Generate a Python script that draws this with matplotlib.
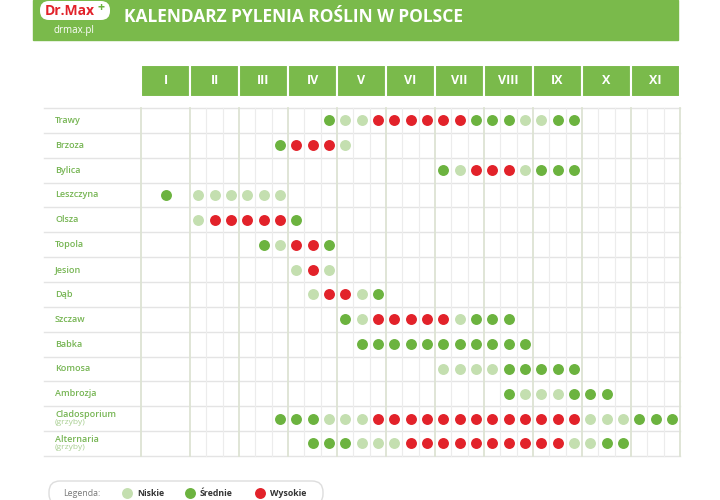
import matplotlib
matplotlib.use("Agg")
import matplotlib.pyplot as plt
from matplotlib.patches import FancyBboxPatch, Rectangle

plt.rcParams['font.family'] = ['Open Sans', 'DejaVu Sans']

months = ["I", "II", "III", "IV", "V", "VI", "VII", "VIII", "IX", "X", "XI"]
plants = ["Trawy", "Brzoza", "Bylica", "Leszczyna", "Olsza", "Topola", "Jesion", "Dąb",
          "Szczaw", "Babka", "Komosa", "Ambrozja", "Cladosporium", "Alternaria"]
subs = {"Cladosporium": "(grzyby)", "Alternaria": "(grzyby)"}
# slot -1 = January (single column); slots 0..29 = thirds of Feb..Nov
# levels: L = niskie, S = srednie, W = wysokie
series = {
    "Trawy":        (8,  "SLLWWWWWWSSSLLSS"),
    "Brzoza":       (5,  "SWWWL"),
    "Bylica":       (15, "SLWWWLSSS"),
    "Leszczyna":    (-1, "SLLLLLL"),
    "Olsza":        (0,  "LWWWWWS"),
    "Topola":       (4,  "SLWWS"),
    "Jesion":       (6,  "LWL"),
    "Dąb":          (7,  "LWWLS"),
    "Szczaw":       (9,  "SLWWWWWLSSS"),
    "Babka":        (10, "SSSSSSSSSSS"),
    "Komosa":       (15, "LLLLSSSSS"),
    "Ambrozja":     (19, "SLLLSSS"),
    "Cladosporium": (5,  "SSSLLLWWWWWWWWWWWWWLLLSSS"),
    "Alternaria":   (7,  "SSSLLLWWWWWWWWWWLLSS"),
}
legend_labels = ["Niskie", "Średnie", "Wysokie"]

GREEN = "#6cb33f"
LIGHT = "#c4dfb0"
RED = "#e2222a"
HEAD = "#7aba4b"
colors = {"L": LIGHT, "S": GREEN, "W": RED}

fig = plt.figure(figsize=(7.2, 5), dpi=100)
ax = fig.add_axes([0, 0, 1, 1])
ax.set_xlim(0, 720)
ax.set_ylim(500, 0)
ax.axis("off")

# header
ax.add_patch(Rectangle((33, 0), 645, 40, color=HEAD, zorder=1))
ax.add_patch(FancyBboxPatch((40, 1), 70, 19, boxstyle="round,pad=0,rounding_size=9",
                            fc="white", ec="none", zorder=2))
ax.text(70, 11, "Dr.Max", color="#e2222a", fontsize=10, fontweight="bold",
        ha="center", va="center", zorder=3)
ax.text(101, 7, "+", color=GREEN, fontsize=9, fontweight="bold", ha="center", va="center", zorder=3)
ax.text(74, 30, "drmax.pl", color="white", fontsize=7, ha="center", va="center", zorder=3)
ax.text(124, 17, "KALENDARZ PYLENIA ROŚLIN W POLSCE", color="white", fontsize=12.5,
        fontweight="bold", ha="left", va="center", zorder=3)

x0, mw = 141, 49.0
sw = mw / 3
# month header
for i, m in enumerate(months):
    ax.add_patch(Rectangle((x0 + i * mw, 65), mw, 32, fc=HEAD, ec="white", lw=1.5, zorder=2))
    ax.text(x0 + i * mw + mw / 2, 81, m, color="white", fontsize=9, fontweight="bold",
            ha="center", va="center", zorder=3)

y_top, rh = 108, 24.85
n = len(plants)
xend = x0 + len(months) * mw
# grid
for r in range(n + 1):
    ax.plot([44, xend], [y_top + r * rh] * 2, color="#e4e4e4", lw=1, zorder=1)
for i in range(len(months) + 1):
    xv = x0 + i * mw
    ax.plot([xv, xv], [y_top, y_top + n * rh], color="#dde3d3", lw=1.3, zorder=1)
    if 0 < i < len(months):
        for k in (1, 2):
            ax.plot([xv + k * sw] * 2, [y_top, y_top + n * rh], color="#ececec", lw=0.8, zorder=1)

for r, p in enumerate(plants):
    yc = y_top + r * rh + rh / 2
    if p in subs:
        ax.text(55, yc - 4, p, color="#76b553", fontsize=6.5, fontweight="semibold", va="center", ha="left")
        ax.text(55, yc + 4, subs[p], color="#a9cf92", fontsize=6, va="center", ha="left")
    else:
        ax.text(55, yc, p, color="#76b553", fontsize=6.5, fontweight="semibold", va="center", ha="left")
    start, lv = series[p]
    for j, c in enumerate(lv):
        s = start + j
        xc = x0 + mw / 2 if s < 0 else x0 + mw + sw * (s + 0.5)
        ax.scatter([xc], [yc], s=62, color=colors[c], zorder=4, linewidths=0)

# legend
ax.add_patch(FancyBboxPatch((49, 481), 274, 24, boxstyle="round,pad=0,rounding_size=11",
                            fc="white", ec="#dddddd", lw=1, zorder=2))
ax.text(63, 493, "Legenda:", color="#777777", fontsize=6.3, va="center", zorder=3)
for (lab, c, xs) in zip(legend_labels, [LIGHT, GREEN, RED], [127, 190, 260]):
    ax.scatter([xs], [493], s=62, color=c, zorder=4, linewidths=0)
    ax.text(xs + 10, 493, lab, color="#333333", fontsize=6.3, fontweight="bold", va="center", zorder=3)

fig.savefig("out.png", dpi=100)
